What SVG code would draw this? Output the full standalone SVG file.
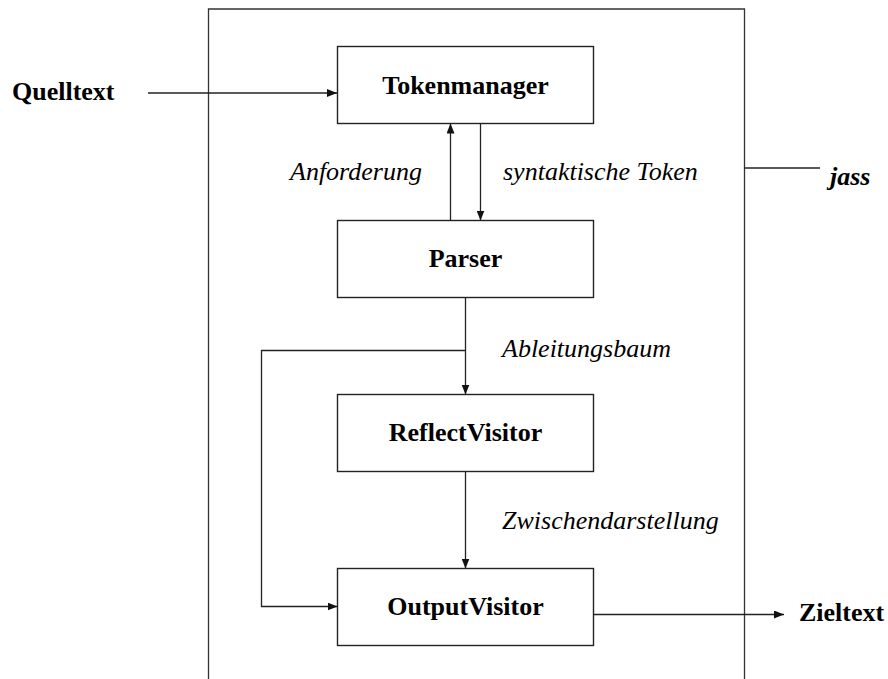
<svg xmlns="http://www.w3.org/2000/svg" width="888" height="679" viewBox="0 0 888 679">
  <defs>
    <style>
      .box { fill: #fff; stroke: #222; stroke-width: 1.4; }
      .frame { fill: none; stroke: #333; stroke-width: 1.3; }
      .line { fill: none; stroke: #222; stroke-width: 1.3; }
      text { font-family: 'Liberation Serif', 'DejaVu Serif', serif; font-size: 26px; fill: #000; }
      .node { font-weight: bold; text-anchor: middle; }
      .ext { font-weight: bold; }
      .lbl { font-style: italic; }
      .sys { font-style: italic; font-weight: bold; }
    </style>
    <marker id="arrow" viewBox="0 0 10 8" refX="10" refY="4" markerWidth="10" markerHeight="8" markerUnits="userSpaceOnUse" orient="auto">
      <path d="M0,0 L10,4 L0,8 Z" fill="#111"/>
    </marker>
  </defs>

  <!-- system boundary -->
  <g id="system">
    <path class="frame" d="M208.5,690 V9 H744.5 V690"/>
    <line class="line" x1="744.5" y1="168" x2="820" y2="168"/>
    <text class="sys" x="830" y="185">jass</text>
  </g>

  <!-- connectors -->
  <g id="connectors">
    <line class="line" x1="148" y1="93" x2="337" y2="93" marker-end="url(#arrow)"/>
    <line class="line" x1="450.5" y1="220.5" x2="450.5" y2="123.5" marker-end="url(#arrow)"/>
    <line class="line" x1="480.5" y1="123.5" x2="480.5" y2="220.5" marker-end="url(#arrow)"/>
    <line class="line" x1="465.5" y1="297.5" x2="465.5" y2="394.5" marker-end="url(#arrow)"/>
    <path class="line" d="M465.5,350.5 H261.5 V606.5 H337.5" marker-end="url(#arrow)"/>
    <line class="line" x1="465.5" y1="471.5" x2="465.5" y2="568.5" marker-end="url(#arrow)"/>
    <line class="line" x1="593.5" y1="614.5" x2="784" y2="614.5" marker-end="url(#arrow)"/>
    <text class="lbl" x="290" y="180">Anforderung</text>
    <text class="lbl" x="503" y="180">syntaktische Token</text>
    <text class="lbl" x="502" y="357">Ableitungsbaum</text>
    <text class="lbl" x="502" y="529">Zwischendarstellung</text>
  </g>

  <!-- external inputs / outputs -->
  <g id="quelltext">
    <text class="ext" x="12" y="100">Quelltext</text>
  </g>
  <g id="zieltext">
    <text class="ext" x="799" y="621">Zieltext</text>
  </g>

  <!-- components -->
  <g id="tokenmanager">
    <rect class="box" x="337.5" y="46.5" width="256" height="77"/>
    <text class="node" x="465.5" y="94">Tokenmanager</text>
  </g>
  <g id="parser">
    <rect class="box" x="337.5" y="220.5" width="256" height="77"/>
    <text class="node" x="465.5" y="267">Parser</text>
  </g>
  <g id="reflectvisitor">
    <rect class="box" x="337.5" y="394.5" width="256" height="77"/>
    <text class="node" x="465.5" y="441">ReflectVisitor</text>
  </g>
  <g id="outputvisitor">
    <rect class="box" x="337.5" y="568.5" width="256" height="77"/>
    <text class="node" x="465.5" y="615">OutputVisitor</text>
  </g>
</svg>
